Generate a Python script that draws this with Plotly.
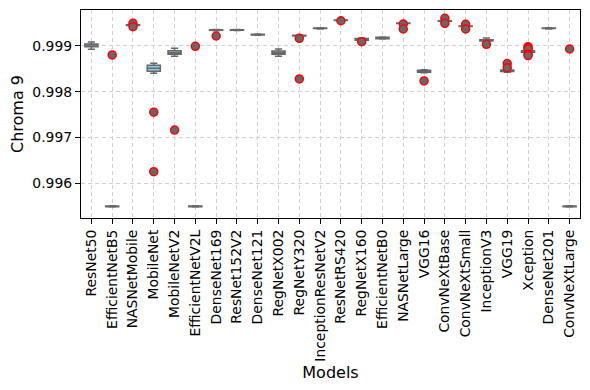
import plotly.graph_objects as go

# Box statistics per model
models = ["ResNet50", "EfficientNetB5", "NASNetMobile", "MobileNet", "MobileNetV2",
          "EfficientNetV2L", "DenseNet169", "ResNet152V2", "DenseNet121", "RegNetX002",
          "RegNetY320", "InceptionResNetV2", "ResNetRS420", "RegNetX160", "EfficientNetB0",
          "NASNetLarge", "VGG16", "ConvNeXtBase", "ConvNeXtSmall", "InceptionV3",
          "VGG19", "Xception", "DenseNet201", "ConvNeXtLarge"]

lower = [0.998928, 0.995475, 0.999440, 0.998404, 0.998775, 0.995475, 0.999335, 0.999338,
         0.999235, 0.998775, 0.999212, 0.999374, 0.999548, 0.999115, 0.999150, 0.999485,
         0.998415, 0.999535, 0.999418, 0.999100, 0.998426, 0.998855, 0.999374, 0.995475]
q1 = [0.998985, 0.995482, 0.999450, 0.998448, 0.998818, 0.995482, 0.999342, 0.999344,
      0.999240, 0.998820, 0.999218, 0.999380, 0.999555, 0.999125, 0.999160, 0.999490,
      0.998425, 0.999540, 0.999424, 0.999109, 0.998439, 0.998862, 0.999380, 0.995482]
median = [0.999020, 0.995490, 0.999458, 0.998513, 0.998854, 0.995490, 0.999349, 0.999350,
          0.999247, 0.998854, 0.999225, 0.999386, 0.999561, 0.999148, 0.999175, 0.999496,
          0.998448, 0.999546, 0.999430, 0.999124, 0.998458, 0.998880, 0.999386, 0.995490]
q3 = [0.999044, 0.995498, 0.999465, 0.998579, 0.998897, 0.995498, 0.999356, 0.999356,
      0.999254, 0.998890, 0.999232, 0.999392, 0.999567, 0.999165, 0.999190, 0.999502,
      0.998468, 0.999552, 0.999436, 0.999138, 0.998476, 0.998897, 0.999392, 0.995498]
upper = [0.999087, 0.995505, 0.999475, 0.998622, 0.998950, 0.995505, 0.999362, 0.999362,
         0.999260, 0.998934, 0.999238, 0.999398, 0.999574, 0.999172, 0.999197, 0.999508,
         0.998478, 0.999558, 0.999442, 0.999175, 0.998485, 0.998905, 0.999398, 0.995505]

# Outliers
out_models = ["EfficientNetB5", "NASNetMobile", "NASNetMobile", "MobileNet", "MobileNet",
              "MobileNetV2", "EfficientNetV2L", "DenseNet169", "RegNetY320", "RegNetY320",
              "ResNetRS420", "RegNetX160", "NASNetLarge", "NASNetLarge", "VGG16",
              "ConvNeXtBase", "ConvNeXtBase", "ConvNeXtSmall", "ConvNeXtSmall", "InceptionV3",
              "VGG19", "VGG19", "Xception", "Xception", "Xception", "Xception", "Xception",
              "ConvNeXtLarge"]
out_values = [0.998803, 0.999496, 0.999422, 0.997552, 0.996249,
              0.997160, 0.998993, 0.999218, 0.999168, 0.998280,
              0.999552, 0.999094, 0.999480, 0.999371, 0.998236,
              0.999604, 0.999496, 0.999474, 0.999371, 0.999037,
              0.998614, 0.998526, 0.998985, 0.998955, 0.998934, 0.998820, 0.998790,
              0.998934]

y_ticks = [0.996, 0.997, 0.998, 0.999]

gray = "#686868"
font = "DejaVu Sans"
fig = go.Figure()
fig.add_trace(go.Box(x=models, q1=q1, median=median, q3=q3,
                     lowerfence=lower, upperfence=upper,
                     boxpoints=False, fillcolor="#87CEEB",
                     line=dict(color=gray, width=1.5), whiskerwidth=0.55,
                     showlegend=False))
fig.add_trace(go.Scatter(x=out_models, y=out_values, mode="markers",
                         marker=dict(color=gray, size=8,
                                     line=dict(color="red", width=1.5)),
                         showlegend=False))

axis_common = dict(showline=True, linecolor="black", linewidth=1.2, mirror=True,
                   ticks="outside", ticklen=5, tickcolor="black", automargin=False,
                   showgrid=True, gridcolor="#d0d0d0", griddash="4px,3px", gridwidth=0.8,
                   zeroline=False,
                   tickfont=dict(family=font, size=13.9, color="black"))

fig.update_xaxes(**axis_common, tickangle=-90, range=[-0.5, len(models) - 0.5],
                 title=dict(text="Models", font=dict(family=font, size=16, color="black"),
                            standoff=6))
fig.update_yaxes(**axis_common, range=[0.995236, 0.999787], tickvals=y_ticks,
                 ticktext=[f"{v:.3f}" for v in y_ticks],
                 title=dict(text="Chroma 9", font=dict(family=font, size=16, color="black"),
                            standoff=9))

# page body keeps its default 8px margin, so the figure is a little smaller than the window
fig.update_layout(width=582, height=382, plot_bgcolor="white", paper_bgcolor="white",
                  margin=dict(l=73, r=10, t=2, b=172), boxgap=0.1)

fig.write_html("out.html")
